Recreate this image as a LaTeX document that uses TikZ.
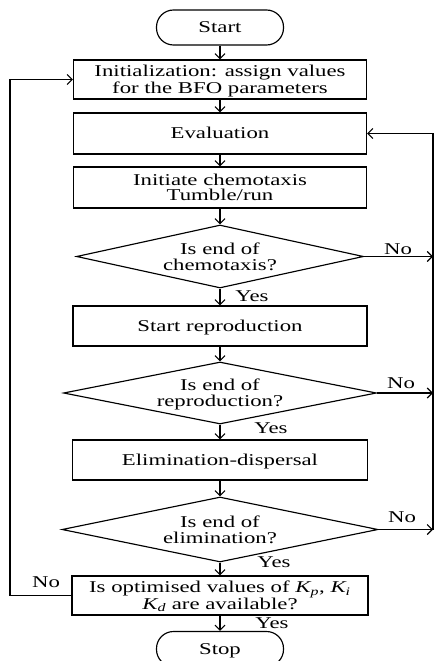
\documentclass[tikz,border=0pt]{standalone}
\usepackage{fontspec}
\setmainfont{Liberation Serif}
\usepackage{graphicx}
\usetikzlibrary{arrows.meta,shapes.geometric}
\newcommand{\sq}[1]{\raisebox{-2pt}[\height][\depth]{\scalebox{1.38}[1]{\begin{tabular}{@{}c@{}}#1\end{tabular}}}}
\begin{document}
\begin{tikzpicture}[x=1pt,y=-1pt,
  font=\fontsize{16.5}{15}\selectfont, line width=1.15pt,
  box/.style={draw, rectangle, minimum width=293pt, minimum height=40pt, inner sep=0pt},
  term/.style={draw, rectangle, rounded corners=17pt, minimum width=127pt, minimum height=35pt, inner sep=0pt},
  dec/.style={draw, diamond, inner sep=0pt},
  arr/.style={-{Straight Barb[length=5pt,width=10pt]}},
  lbl/.style={inner sep=0pt}]
\useasboundingbox (0,0) rectangle (435,661);
\clip (0,0) rectangle (435,661);

\node[term] (start) at (220,27.5) {\sq{Start}};
\node[box, minimum height=39pt] (init) at (220,79.5) {\sq{Initialization: assign values\\for the BFO parameters}};
\node[box, minimum height=41pt] (eval) at (220,133.5) {\sq{Evaluation}};
\node[box, minimum height=41pt] (chem) at (220,187.5) {\sq{Initiate chemotaxis\\Tumble/run}};
\node[dec, aspect=4.56, minimum width=287pt, minimum height=63pt] (d1) at (220,256.5) {\sq{Is end of\\chemotaxis?}};
\node[box, minimum width=294pt] (repro) at (220,326) {\sq{Start reproduction}};
\node[dec, aspect=5.05, minimum width=313pt, minimum height=62pt] (d2) at (220,393) {\sq{Is end of\\reproduction?}};
\node[box, minimum width=295pt] (elim) at (220,460) {\sq{Elimination-dispersal}};
\node[dec, aspect=4.86, minimum width=316pt, minimum height=65pt] (d3) at (220,529.5) {\sq{Is end of\\elimination?}};
\node[box, minimum width=296pt, minimum height=39pt] (opt) at (220,595.5) {\sq{Is optimised values of \textit{K\textsubscript{p}}, \textit{K\textsubscript{i}}\\\textit{K\textsubscript{d}} are available?}};
\node[term] (stop) at (220,649) {\sq{Stop}};

\coordinate (rx) at (433,0);
\coordinate (lx) at (10,0);

\draw[arr] (start) -- (init);
\draw[arr] (init) -- (eval);
\draw[arr] (eval) -- (chem);
\draw[arr] (chem) -- (d1);
\draw[arr] (d1) -- (repro);
\draw[arr] (repro) -- (d2);
\draw[arr] (d2) -- (elim);
\draw[arr] (elim) -- (d3);
\draw[arr] (d3) -- (opt);
\draw[arr] (opt) -- (stop);

\draw[arr] (d1.east) -- (d1.east -| rx);
\draw[arr] (d2.east) -- (d2.east -| rx);
\draw[arr] (d3.east) -- (d3.east -| rx);
\draw[arr] (d3.east -| rx) -- (eval.east -| rx) -- (eval.east);
\draw[arr] (opt.west) -- (opt.west -| lx) -- (init.west -| lx) -- (init.west);

\node[lbl] (no1) at (398,249) {\sq{No}};
\node[lbl] (no2) at (401,383) {\sq{No}};
\node[lbl] (no3) at (402,517) {\sq{No}};
\node[lbl] (no4) at (46,582) {\sq{No}};
\node[lbl] (yes1) at (252,296) {\sq{Yes}};
\node[lbl] (yes2) at (271,428) {\sq{Yes}};
\node[lbl] (yes3) at (274,562) {\sq{Yes}};
\node[lbl] (yes4) at (272,623) {\sq{Yes}};
\end{tikzpicture}
\end{document}
